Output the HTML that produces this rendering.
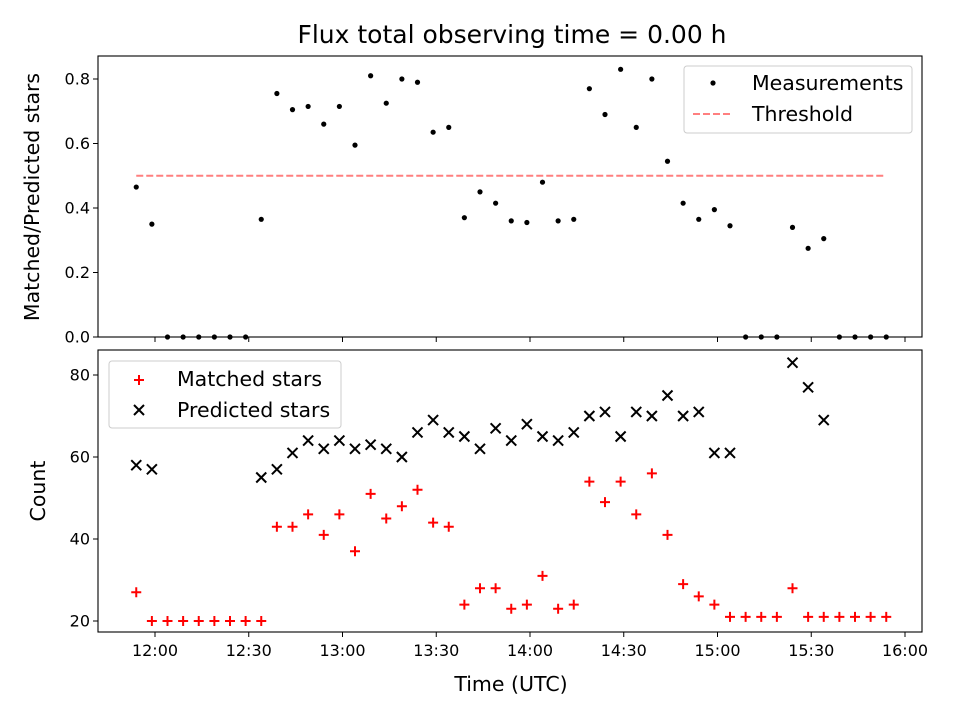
<!DOCTYPE html>
<html><head><meta charset="utf-8"><style>
body{margin:0;background:#fff;font-family:"Liberation Sans","DejaVu Sans",sans-serif}
svg text{font-family:"DejaVu Sans","Liberation Sans",sans-serif;fill:#000}
</style></head><body>
<svg id="chart" width="960" height="720"></svg>
<script>
const times=["11:54","11:59","12:04","12:09","12:14","12:19","12:24","12:29","12:34","12:39","12:44","12:49","12:54","12:59","13:04","13:09","13:14","13:19","13:24","13:29","13:34","13:39","13:44","13:49","13:54","13:59","14:04","14:09","14:14","14:19","14:24","14:29","14:34","14:39","14:44","14:49","14:54","14:59","15:04","15:09","15:14","15:19","15:24","15:29","15:34","15:39","15:44","15:49","15:54"];
const ratio=[0.465,0.35,0,0,0,0,0,0,0.365,0.755,0.705,0.715,0.66,0.715,0.595,0.81,0.725,0.80,0.79,0.635,0.65,0.37,0.45,0.415,0.36,0.355,0.48,0.36,0.365,0.77,0.69,0.83,0.65,0.80,0.545,0.415,0.365,0.395,0.345,0,0,0,0.34,0.275,0.305,0,0,0,0];
const matched=[27,20,20,20,20,20,20,20,20,43,43,46,41,46,37,51,45,48,52,44,43,24,28,28,23,24,31,23,24,54,49,54,46,56,41,29,26,24,21,21,21,21,28,21,21,21,21,21,21];
const predicted=[58,57,null,null,null,null,null,null,55,57,61,64,62,64,62,63,62,60,66,69,66,65,62,67,64,68,65,64,66,70,71,65,71,70,75,70,71,61,61,null,null,null,83,77,69,null,null,null,null];
const threshold=0.5;
const xTicks=["12:00","12:30","13:00","13:30","14:00","14:30","15:00","15:30","16:00"];
const yTopTicks=[0,0.2,0.4,0.6,0.8];
const yBotTicks=[20,40,60,80];

const NS="http://www.w3.org/2000/svg";
const svg=document.getElementById('chart');
function mk(tag,attrs,parent,name,inter){const e=document.createElementNS(NS,tag);for(const k in attrs)e.setAttribute(k,attrs[k]);


(parent||svg).appendChild(e);return e;}
function mins(t){const [h,m]=t.split(':').map(Number);return h*60+m;}
const L=98,R=922;
const x=t=>155+(mins(t)-720)*93.75/30;
const yT=v=>337-v*322.5;
const yB=v=>621-(v-20)*4.1;
const LF=20.5;

mk('text',{x:512,y:43,'font-size':25,'text-anchor':'middle'},svg,'chart-title').textContent='Flux total observing time = 0.00 h';
const gT=mk('g',{},svg,'top-axes');
mk('line',{x1:x(times[0]),x2:x(times[times.length-1]),y1:yT(threshold),y2:yT(threshold),stroke:'#ff7f7f','stroke-width':2,'stroke-dasharray':'7,3'},gT,'threshold-line');
ratio.forEach((v,i)=>{mk('circle',{cx:x(times[i]),cy:yT(v),r:2.6,fill:'#000'},gT,'measurement-point');});
mk('rect',{x:L,y:56,width:R-L,height:281,fill:'none',stroke:'#000','stroke-width':1.1},gT,'top-frame');
yTopTicks.forEach(v=>{const y=yT(v);mk('line',{x1:L-5,x2:L,y1:y,y2:y,stroke:'#000'},gT,'y-tick');
mk('text',{x:L-8,y:y+5.5,'font-size':16,'text-anchor':'end'},gT,'y-tick-label').textContent=v.toFixed(1);});
xTicks.forEach(t=>{const X=x(t);mk('line',{x1:X,x2:X,y1:337,y2:342,stroke:'#000'},gT,'x-tick');});
mk('text',{x:39,y:197,'font-size':LF,'text-anchor':'middle',transform:'rotate(-90 39 197)'},gT,'y-axis-title-top').textContent='Matched/Predicted stars';
const lg=mk('g',{},gT,'legend-top');
mk('rect',{x:684,y:66,width:228,height:67,rx:3,fill:'#fff','fill-opacity':0.8,stroke:'#ccc'},lg,'legend-box');
mk('circle',{cx:713,cy:83,r:2.6,fill:'#000'},lg,'legend-marker-measurements');
mk('text',{x:752,y:90,'font-size':LF},lg,'legend-entry-measurements').textContent='Measurements';
mk('line',{x1:693,x2:733,y1:114,y2:114,stroke:'#ff7f7f','stroke-width':2,'stroke-dasharray':'7,3'},lg,'legend-marker-threshold');
mk('text',{x:752,y:121,'font-size':LF},lg,'legend-entry-threshold').textContent='Threshold';
const gB=mk('g',{},svg,'bottom-axes');
matched.forEach((v,i)=>{const X=x(times[i]),Y=yB(v);
mk('path',{d:`M${X-5} ${Y}H${X+5}M${X} ${Y-5}V${Y+5}`,stroke:'#f00','stroke-width':2},gB,'matched-point');});
predicted.forEach((v,i)=>{if(v==null)return;const X=x(times[i]),Y=yB(v);
mk('path',{d:`M${X-5} ${Y-5}L${X+5} ${Y+5}M${X-5} ${Y+5}L${X+5} ${Y-5}`,stroke:'#000','stroke-width':2},gB,'predicted-point');});
mk('rect',{x:L,y:350,width:R-L,height:282,fill:'none',stroke:'#000','stroke-width':1.1},gB,'bottom-frame');
yBotTicks.forEach(v=>{const y=yB(v);mk('line',{x1:L-5,x2:L,y1:y,y2:y,stroke:'#000'},gB,'y-tick');
mk('text',{x:L-8,y:y+5.5,'font-size':16,'text-anchor':'end'},gB,'y-tick-label').textContent=v;});
xTicks.forEach(t=>{const X=x(t);mk('line',{x1:X,x2:X,y1:632,y2:637,stroke:'#000'},gB,'x-tick');
mk('text',{x:X,y:656,'font-size':16,'text-anchor':'middle'},gB,'x-tick-label').textContent=t;});
mk('text',{x:511,y:691,'font-size':LF,'text-anchor':'middle'},gB,'x-axis-title').textContent='Time (UTC)';
mk('text',{x:45,y:491,'font-size':LF,'text-anchor':'middle',transform:'rotate(-90 45 491)'},gB,'y-axis-title-bottom').textContent='Count';
const lb=mk('g',{},gB,'legend-bottom');
mk('rect',{x:109,y:361,width:232,height:67,rx:3,fill:'#fff','fill-opacity':0.8,stroke:'#ccc'},lb,'legend-box');
mk('path',{d:'M134 380H144M139 375V385',stroke:'#f00','stroke-width':2},lb,'legend-marker-matched');
mk('text',{x:177,y:386,'font-size':LF},lb,'legend-entry-matched').textContent='Matched stars';
mk('path',{d:'M134 405L144 415M134 415L144 405',stroke:'#000','stroke-width':2},lb,'legend-marker-predicted');
mk('text',{x:177,y:417,'font-size':LF},lb,'legend-entry-predicted').textContent='Predicted stars';
</script>
</body></html>
